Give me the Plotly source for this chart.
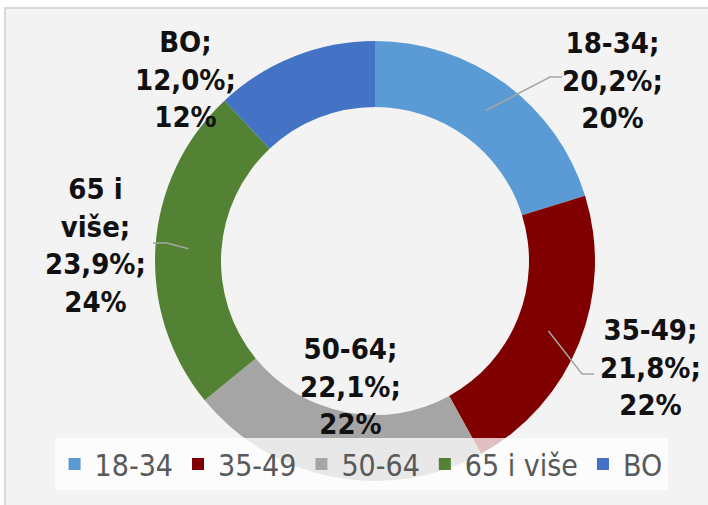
import math
import plotly.graph_objects as go

# data
groups = ["18-34", "35-49", "50-64", "65 i više", "BO"]
shares = [20.2, 21.8, 22.1, 23.9, 12.0]
colors = ["#5B9BD5", "#800000", "#A5A5A5", "#548235", "#4472C4"]

W, H = 708, 505
CX, CY, R, HOLE = 375, 261, 220, 0.7

# label centres (px) and where leader lines end (None = no leader)
label_pos = [(612, 80), (650, 367), (350, 386), (95, 245), (185, 79)]
leader_end = [(562, 77), (594, 374), None, (153, 243), None]


def px(x, y):
    return x / W, 1 - y / H


fig = go.Figure()
fig.add_trace(go.Pie(
    labels=groups,
    values=shares,
    marker=dict(colors=colors, line=dict(width=0)),
    hole=HOLE,
    sort=False,
    direction="clockwise",
    rotation=0,
    textinfo="none",
    hoverinfo="label+percent",
    domain=dict(x=[(CX - R) / W, (CX + R) / W], y=[1 - (CY + R) / H, 1 - (CY - R) / H]),
))

total = sum(shares)
cum = 0
shapes = [dict(type="rect", xref="paper", yref="paper", x0=5 / W, x1=1.2, y0=-0.2, y1=1 - 8 / H,
               line=dict(color="#D9D9D9", width=2), fillcolor="#F3F3F3", layer="below")]
annotations = []
for g, v, pos, end in zip(groups, shares, label_pos, leader_end):
    mid = (cum + v / 2) / total * 2 * math.pi
    cum += v
    pct = round(v / total * 100)
    name = g.replace(" i ", " i<br>") if g.startswith("65") else g
    txt = f"{name};<br>{v:.1f}%;<br>{pct}%".replace(".", ",")
    x, y = px(*pos)
    annotations.append(dict(text=txt, x=x, y=y, xref="paper", yref="paper", showarrow=False,
                            font=dict(family="DejaVu Sans Condensed", size=29, color="#111111",
                                      weight="bold"),
                            align="center", xanchor="center", yanchor="middle"))
    if end:
        rm = R * (1 + HOLE) / 2
        sx, sy = CX + rm * math.sin(mid), CY - rm * math.cos(mid)
        ex, ey = end
        kx = ex - 12 if ex > CX else ex + 14
        pts = [(sx, sy), (kx, ey), (ex, ey)]
        path = "M " + " L ".join(f"{a / W},{1 - b / H}" for a, b in pts)
        shapes.append(dict(type="path", xref="paper", yref="paper", path=path,
                           line=dict(color="#A6A6A6", width=1.5), layer="above"))

fig.update_layout(
    width=W, height=H,
    margin=dict(l=0, r=0, t=0, b=0),
    paper_bgcolor="white",
    shapes=shapes,
    annotations=annotations,
    showlegend=True,
    legend=dict(orientation="h", x=0.51, xanchor="center", y=1 - 464 / H, yanchor="middle",
                bgcolor="rgba(255,255,255,0.75)",
                font=dict(family="DejaVu Sans Condensed", size=30, color="#595959"),
                itemwidth=30, traceorder="normal"),
)

fig.write_html("out.html", config={"displayModeBar": False},
               post_script="document.body.style.margin='0px';")
